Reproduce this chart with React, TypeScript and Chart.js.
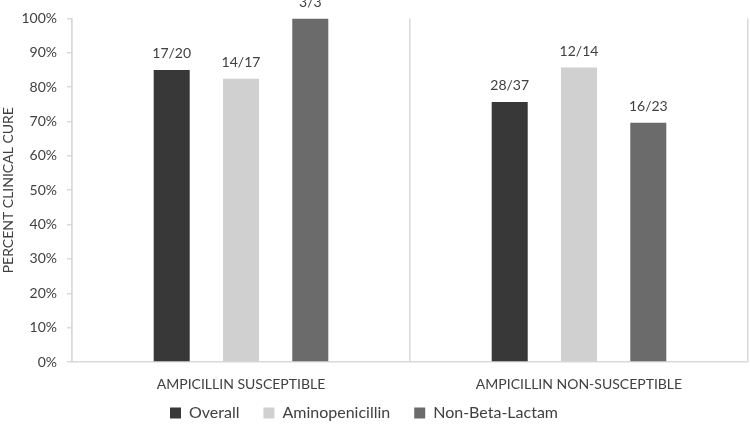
import React, { useEffect, useRef } from "react";
import { Chart, registerables } from "chart.js";

Chart.register(...registerables);

const categories = ["AMPICILLIN SUSCEPTIBLE", "AMPICILLIN NON-SUSCEPTIBLE"];
const seriesNames = ["Overall", "Aminopenicillin", "Non-Beta-Lactam"];
const overall = [85.0, 75.7];
const aminopenicillin = [82.4, 85.7];
const nonBetaLactam = [100.0, 69.6];
const overallLabels = ["17/20", "28/37"];
const aminoLabels = ["14/17", "12/14"];
const nonBetaLabels = ["3/3", "16/23"];
const yTicks = [0, 10, 20, 30, 40, 50, 60, 70, 80, 90, 100];

const colors = ["#383838", "#d0d0d0", "#6b6b6b"];
const FONT = "Lato, 'Open Sans', sans-serif";
const TEXT = "#404040";

const barLabelPlugin = {
  id: "barLabels",
  afterLayout(chart: any) {
    if (chart.legend) {
      chart.legend.left -= 10;
      chart.legend.right -= 10;
    }
  },
  afterDatasetsDraw(chart: any) {
    const ctx = chart.ctx;
    const all = [overallLabels, aminoLabels, nonBetaLabels];
    ctx.save();
    ctx.font = `14px ${FONT}`;
    ctx.fillStyle = TEXT;
    ctx.textAlign = "center";
    ctx.textBaseline = "bottom";
    chart.data.datasets.forEach((ds: any, i: number) => {
      const meta = chart.getDatasetMeta(i);
      meta.data.forEach((el: any, j: number) => {
        ctx.fillText(all[i][j], el.x, el.y - 9);
      });
    });
    ctx.restore();
  },
};

export default function App() {
  const ref = useRef<HTMLCanvasElement>(null);
  useEffect(() => {
    const chart = new Chart(ref.current!, {
      type: "bar",
      data: {
        labels: categories,
        datasets: [
          { label: seriesNames[0], data: overall, backgroundColor: colors[0] },
          { label: seriesNames[1], data: aminopenicillin, backgroundColor: colors[1] },
          { label: seriesNames[2], data: nonBetaLactam, backgroundColor: colors[2] },
        ],
      },
      options: {
        animation: false,
        responsive: false,
        maintainAspectRatio: false,
        layout: { padding: { top: 18, right: 2, left: 0, bottom: 4 } },
        datasets: {
          bar: { categoryPercentage: 0.615, barPercentage: 0.52 },
        },
        plugins: {
          legend: {
            position: "bottom",
            labels: {
              font: { family: FONT, size: 16 },
              color: TEXT,
              boxWidth: 11,
              boxHeight: 11,
              padding: 24,
            },
          },
          tooltip: { enabled: false },
        },
        scales: {
          x: {
            grid: {
              display: true,
              color: "#d9d9d9",
              lineWidth: 1.5,
              drawTicks: false,
              offset: true,
            },
            border: { display: true, color: "#d9d9d9", width: 1.5 },
            ticks: {
              font: { family: FONT, size: 14 },
              color: TEXT,
              padding: 14,
            },
            afterFit: (s: any) => {
              s.height = 19;
              s._computeLabelArea = () => undefined;
            },
          },
          y: {
            min: 0,
            max: 100,
            afterBuildTicks: (s: any) => {
              s.ticks = yTicks.map((v) => ({ value: v }));
            },
            grid: {
              drawOnChartArea: false,
              drawTicks: true,
              tickLength: 5,
              color: "#d9d9d9",
              lineWidth: 1.5,
            },
            border: { display: true, color: "#d9d9d9", width: 1.5 },
            ticks: {
              font: { family: FONT, size: 14 },
              color: TEXT,
              padding: 10,
              callback: (v: any) => v + "%",
            },
            title: {
              display: true,
              text: "PERCENT CLINICAL CURE",
              font: { family: FONT, size: 14 },
              color: TEXT,
              padding: { top: 0, bottom: 4 },
            },
            afterFit: (s: any) => {
              s.width = 72;
            },
          },
        },
      },
      plugins: [barLabelPlugin],
    });
    return () => chart.destroy();
  }, []);
  return (
    <div style={{ position: "fixed", left: 0, top: 0, width: 750, height: 435, background: "#fff" }}>
      <canvas ref={ref} width={750} height={435} style={{ width: 750, height: 435 }} />
    </div>
  );
}
